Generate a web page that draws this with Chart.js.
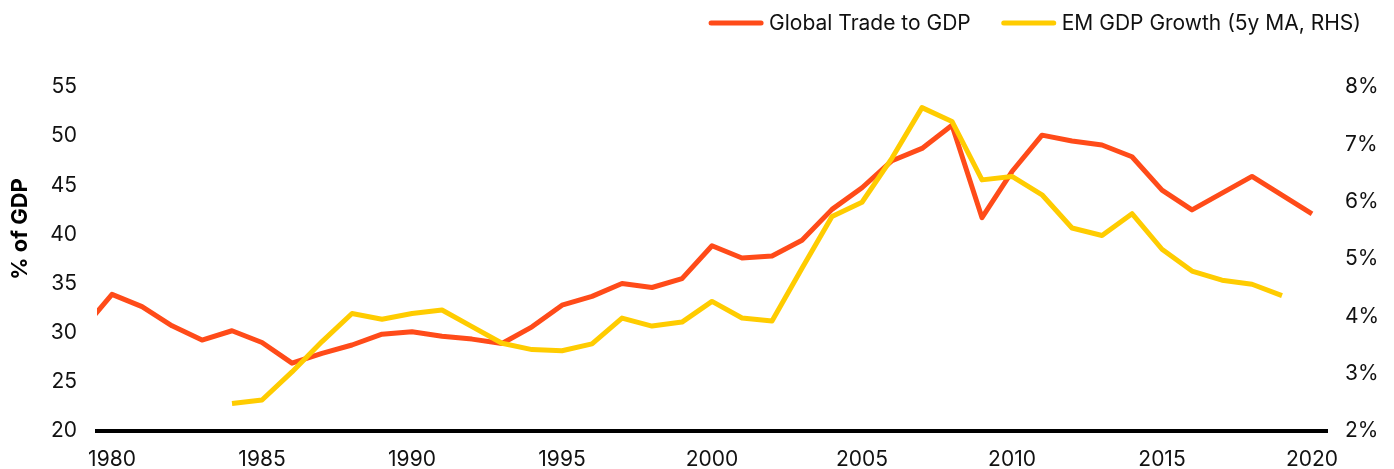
<!DOCTYPE html>
<html>
<head>
<meta charset="utf-8">
<script src="https://cdn.jsdelivr.net/npm/chart.js@4.4.1/dist/chart.umd.min.js"></script>
<style>
  html, body { margin: 0; padding: 0; background: #fff; }
  #wrap { width: 1394px; height: 469px; position: relative; }
</style>
</head>
<body>
<div id="wrap"><canvas id="c" width="1394" height="469"></canvas></div>
<script>
// ---- Data ----
const years = [1979,1980,1981,1982,1983,1984,1985,1986,1987,1988,1989,1990,1991,1992,1993,1994,1995,1996,1997,1998,1999,2000,2001,2002,2003,2004,2005,2006,2007,2008,2009,2010,2011,2012,2013,2014,2015,2016,2017,2018,2019,2020];
const tradeToGdp = [30.3,33.9,32.65,30.7,29.25,30.2,29.0,26.9,27.9,28.75,29.85,30.1,29.65,29.35,28.9,30.6,32.8,33.7,35.0,34.6,35.5,38.85,37.6,37.8,39.4,42.55,44.75,47.5,48.75,51.1,41.7,46.4,50.1,49.5,49.1,47.9,44.5,42.5,44.2,45.9,44.0,42.1];
const emGdpGrowth = [null,null,null,null,null,2.48,2.54,3.03,3.56,4.05,3.95,4.05,4.11,3.82,3.53,3.42,3.40,3.52,3.97,3.83,3.90,4.26,3.97,3.92,4.84,5.74,5.99,6.76,7.64,7.40,6.38,6.44,6.12,5.54,5.41,5.79,5.17,4.79,4.63,4.56,4.36,null];
const xTicks = [1980,1985,1990,1995,2000,2005,2010,2015,2020];
const leftTicks = [20,25,30,35,40,45,50,55];
const rightTicks = [2,3,4,5,6,7,8];
const seriesNames = ['Global Trade to GDP', 'EM GDP Growth (5y MA, RHS)'];
const leftTitle = '% of GDP';
const seriesColors = ['#FF4B19', '#FFCC00'];

const FONT = 'Inter, "Liberation Sans", Arial, sans-serif';

const toPoints = (vals) => years.map((y, i) => ({ x: y, y: vals[i] }));

const legendPlugin = {
  id: 'customLegend',
  afterDraw(chart) {
    const ctx = chart.ctx;
    ctx.save();
    ctx.font = '21px ' + FONT;
    ctx.textBaseline = 'middle';
    ctx.textAlign = 'left';
    const yMid = 23;
    const lineLen = 54, gapLineText = 6, gapItems = 31;
    let right = 1361;
    const items = [];
    for (let i = seriesNames.length - 1; i >= 0; i--) {
      const w = ctx.measureText(seriesNames[i]).width;
      const textX = right - w;
      const lineEnd = textX - gapLineText;
      items.push({ i, textX, lineStart: lineEnd - lineLen, lineEnd });
      right = lineEnd - lineLen - gapItems;
    }
    items.forEach(it => {
      ctx.strokeStyle = seriesColors[it.i];
      ctx.lineWidth = 5;
      ctx.lineCap = 'round';
      ctx.beginPath();
      ctx.moveTo(it.lineStart + 2, yMid);
      ctx.lineTo(it.lineEnd - 2, yMid);
      ctx.stroke();
      ctx.fillStyle = '#111';
      ctx.fillText(seriesNames[it.i], it.textX, yMid + 1);
    });
    // left axis title
    ctx.translate(20, 229);
    ctx.rotate(-Math.PI / 2);
    ctx.font = 'bold 22px ' + FONT;
    ctx.textAlign = 'center';
    ctx.fillStyle = '#000';
    ctx.fillText(leftTitle, 0, 0);
    ctx.restore();
  }
};

new Chart(document.getElementById('c'), {
  type: 'line',
  data: {
    datasets: [
      {
        label: seriesNames[0],
        data: toPoints(tradeToGdp),
        borderColor: seriesColors[0],
        backgroundColor: seriesColors[0],
        borderWidth: 5,
        pointRadius: 0,
        tension: 0,
        yAxisID: 'y',
        borderJoinStyle: 'round',
        order: 2
      },
      {
        label: seriesNames[1],
        data: toPoints(emGdpGrowth),
        borderColor: seriesColors[1],
        backgroundColor: seriesColors[1],
        borderWidth: 5,
        pointRadius: 0,
        tension: 0,
        yAxisID: 'y1',
        spanGaps: false,
        borderJoinStyle: 'round',
        order: 1
      }
    ]
  },
  options: {
    responsive: false,
    animation: false,
    layout: { padding: { top: 87, right: 0, left: 0, bottom: 0 } },
    plugins: {
      legend: { display: false },
      tooltip: { enabled: false }
    },
    scales: {
      x: {
        type: 'linear',
        min: 1979.5,
        max: 2020.5,
        afterBuildTicks(scale) { scale.ticks = xTicks.map(v => ({ value: v })); },
        afterFit(scale) { scale.height = 38; },
        grid: { display: false, drawTicks: false },
        border: { display: true, color: '#000', width: 4 },
        ticks: {
          padding: 16,
          color: '#111',
          font: { family: FONT, size: 21 },
          maxRotation: 0,
          autoSkip: false,
          callback: v => String(v)
        }
      },
      y: {
        position: 'left',
        min: 20,
        max: 55,
        afterBuildTicks(scale) { scale.ticks = leftTicks.map(v => ({ value: v })); },
        afterFit(scale) { scale.width = 97; },
        grid: { display: false, drawTicks: false },
        border: { display: false },
        ticks: {
          padding: 20,
          color: '#111',
          font: { family: FONT, size: 21 },
          callback: v => String(v)
        }
      },
      y1: {
        position: 'right',
        min: 2,
        max: 8,
        afterBuildTicks(scale) { scale.ticks = rightTicks.map(v => ({ value: v })); },
        afterFit(scale) { scale.width = 67; },
        grid: { display: false, drawTicks: false },
        border: { display: false },
        ticks: {
          padding: 18,
          color: '#111',
          font: { family: FONT, size: 21 },
          callback: v => v + '%'
        }
      }
    }
  },
  plugins: [legendPlugin]
});
</script>
</body>
</html>
